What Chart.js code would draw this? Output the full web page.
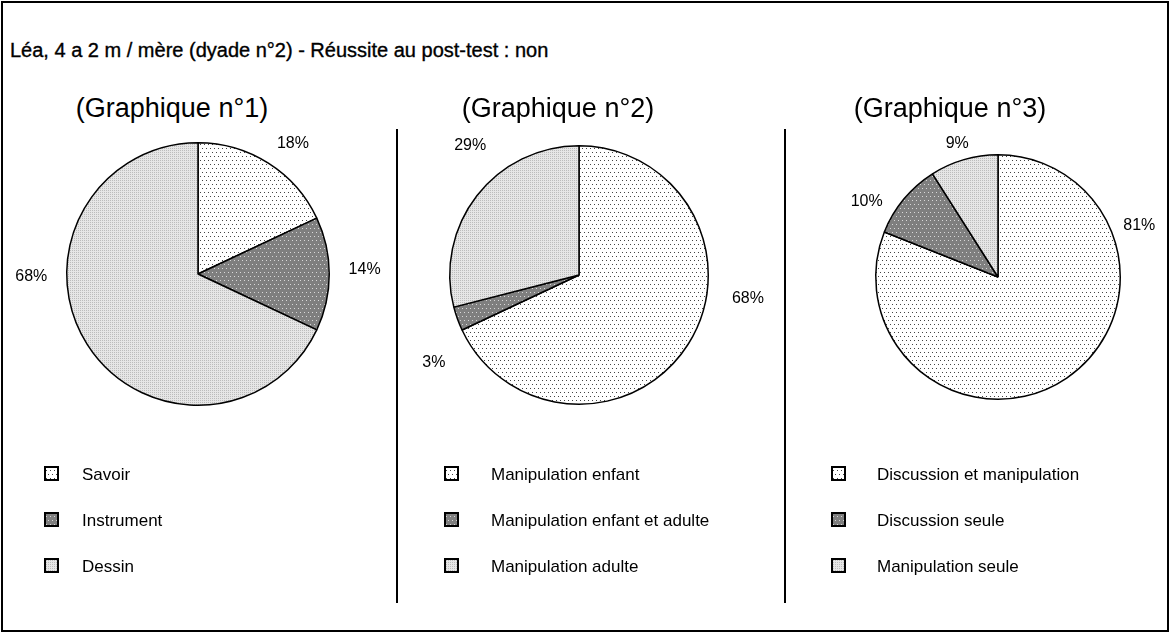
<!DOCTYPE html>
<html lang="fr">
<head>
<meta charset="utf-8">
<title>Léa, 4 a 2 m / mère (dyade n°2)</title>
<script src="https://cdn.jsdelivr.net/npm/chart.js@4.4.1/dist/chart.umd.min.js"></script>
<style>
  html, body { margin: 0; padding: 0; background: #fff; }
  body { width: 1170px; height: 633px; position: relative; overflow: hidden;
         font-family: "Liberation Sans", Arial, sans-serif; color: #000; }
  #frame { position: absolute; left: 1px; top: 1px; width: 1164px; height: 627px;
           border: 2px solid #000; }
  .sep { position: absolute; top: 129px; height: 474px; width: 0; border-left: 2px solid #000; }
  #main-title { position: absolute; left: 10px; top: 38px; font-size: 20px; line-height: 24px;
                white-space: nowrap; -webkit-text-stroke: 0.35px #000; }
  .sub { position: absolute; top: 93px; font-size: 27px; line-height: 30px; white-space: nowrap;
         transform: translateX(-50%); }
  canvas.pie { position: absolute; left: 0; top: 0; }
  .legend { position: absolute; top: 464px; }
  .legend .row { height: 46px; display: flex; align-items: flex-start; }
  .legend canvas { display: block; margin-top: 2px; }
  .legend span { font-size: 17px; line-height: 21px; white-space: nowrap; }
</style>
</head>
<body>
<div id="frame"></div>
<div id="main-title"></div>

<script>
// ---- data ----
const mainTitle = 'Léa, 4 a 2 m / mère (dyade n°2) - Réussite au post-test : non';
const chartTitles = ['(Graphique n°1)', '(Graphique n°2)', '(Graphique n°3)'];

const categories1 = ['Savoir', 'Instrument', 'Dessin'];
const values1 = [18, 14, 68];

const categories2 = ['Manipulation enfant', 'Manipulation enfant et adulte', 'Manipulation adulte'];
const values2 = [68, 3, 29];

const categories3 = ['Discussion et manipulation', 'Discussion seule', 'Manipulation seule'];
const values3 = [81, 10, 9];

// ---- layout of the three panels ----
const W = 1170, H = 633;
const separators = [397, 785];
const panelLayout = [
  { cx: 198, cy: 274, r: 132, titleX: 172, legendX: 44, textGap: 38,
    labelAngle: [36, 88.5, 269], labelDist: [1.23, 1.27, 1.27] },
  { cx: 579, cy: 275, r: 130, titleX: 558, legendX: 444, textGap: 47,
    labelAngle: [98, 239, 320], labelDist: [1.32, 1.31, 1.31] },
  { cx: 998, cy: 277, r: 123, titleX: 950, legendX: 831, textGap: 46,
    labelAngle: [70, 300, 343], labelDist: [1.23, 1.24, 1.14] }
];

// ---- fill patterns ----
function makePattern(bg, dot, step, stagger) {
  const c = document.createElement('canvas');
  c.width = step * 2; c.height = step * 2;
  const g = c.getContext('2d');
  g.fillStyle = bg; g.fillRect(0, 0, c.width, c.height);
  g.fillStyle = dot;
  for (let y = 0; y < 2; y++) {
    for (let x = 0; x < 2; x++) {
      const ox = (stagger && y % 2) ? step / 2 : 0;
      g.fillRect(x * step + ox, y * step, 1, 1);
    }
  }
  return g.createPattern(c, 'repeat');
}
const patterns = [
  makePattern('#ffffff', '#444444', 4, true),   // white with dark dots
  makePattern('#7f7f7f', '#d8d8d8', 4, true),   // dark grey with light dots
  makePattern('#e6e6e6', '#bcbcbc', 2, false)   // light grey fine grain
];

// ---- static text ----
document.getElementById('main-title').textContent = mainTitle;
separators.forEach(x => {
  const d = document.createElement('div');
  d.className = 'sep'; d.style.left = (x - 1) + 'px';
  document.body.appendChild(d);
});

// percentage labels drawn outside each slice
const outsideLabels = {
  id: 'outsideLabels',
  afterDatasetsDraw(chart, args, opts) {
    const ctx = chart.ctx;
    const meta = chart.getDatasetMeta(0);
    const data = chart.data.datasets[0].data;
    ctx.save();
    ctx.font = '16px "Liberation Sans", Arial, sans-serif';
    ctx.fillStyle = '#000';
    ctx.textAlign = 'center';
    ctx.textBaseline = 'middle';
    meta.data.forEach((arc, i) => {
      const a = opts.angles[i] * Math.PI / 180;
      const d = arc.outerRadius * opts.dist[i];
      ctx.fillText(data[i] + '%', arc.x + d * Math.sin(a), arc.y - d * Math.cos(a));
    });
    ctx.restore();
  }
};

function buildPanel(idx, labels, values) {
  const L = panelLayout[idx];

  const sub = document.createElement('div');
  sub.className = 'sub';
  sub.style.left = L.titleX + 'px';
  sub.textContent = chartTitles[idx];
  document.body.appendChild(sub);

  const cv = document.createElement('canvas');
  cv.className = 'pie'; cv.width = W; cv.height = H;
  document.body.appendChild(cv);

  const chart = new Chart(cv, {
    type: 'pie',
    data: {
      labels: labels,
      datasets: [{
        data: values,
        backgroundColor: patterns,
        borderColor: '#000',
        borderWidth: 1.5,
        hoverOffset: 0
      }]
    },
    options: {
      responsive: false,
      animation: false,
      events: [],
      rotation: 0,
      layout: {
        padding: {
          left: L.cx - L.r, top: L.cy - L.r,
          right: W - (L.cx + L.r), bottom: H - (L.cy + L.r)
        }
      },
      plugins: {
        legend: { display: false },
        tooltip: { enabled: false },
        outsideLabels: { angles: L.labelAngle, dist: L.labelDist }
      }
    },
    plugins: [outsideLabels]
  });

  // legend built from the chart's own labels and fills
  const lg = document.createElement('div');
  lg.className = 'legend';
  lg.style.left = L.legendX + 'px';
  chart.data.labels.forEach((name, i) => {
    const row = document.createElement('div');
    row.className = 'row';
    const sw = document.createElement('canvas');
    sw.width = 15; sw.height = 15;
    const g = sw.getContext('2d');
    g.fillStyle = chart.data.datasets[0].backgroundColor[i];
    g.fillRect(0, 0, 15, 15);
    g.strokeStyle = '#000'; g.lineWidth = 2;
    g.strokeRect(1, 1, 13, 13);
    const tx = document.createElement('span');
    tx.textContent = name;
    tx.style.marginLeft = (L.textGap - 15) + 'px';
    row.appendChild(sw); row.appendChild(tx);
    lg.appendChild(row);
  });
  document.body.appendChild(lg);
}

buildPanel(0, categories1, values1);
buildPanel(1, categories2, values2);
buildPanel(2, categories3, values3);
</script>
</body>
</html>
